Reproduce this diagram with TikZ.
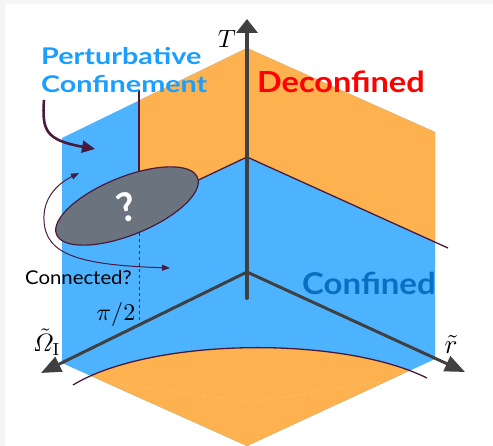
\documentclass[tikz,border=0pt]{standalone}
\usepackage{amsmath}
\usepackage[no-math]{fontspec}
\setmainfont{Lato}
\newfontfamily\pertfont[FakeStretch=1.25]{Lato}
\newfontfamily\deconffont[FakeStretch=1.12]{Lato}
\newfontfamily\conffont[FakeStretch=1.1]{Lato}
\newfontfamily\connfont[FakeStretch=1.07]{Lato}
\usetikzlibrary{arrows.meta,positioning}
\definecolor{wallblue}{HTML}{4DB3FF}
\definecolor{wallorange}{HTML}{FDB24F}
\definecolor{axisgray}{HTML}{404040}
\definecolor{linepurple}{HTML}{4A1A3E}
\definecolor{blobgray}{HTML}{6B747E}
\definecolor{pertblue}{HTML}{1A9EFF}
\definecolor{confblue}{HTML}{0A6FC2}
\definecolor{deconfred}{HTML}{FF0000}
\definecolor{framegray}{HTML}{F5F5F5}
\tikzset{
  axis/.style={draw=axisgray, line width=3pt, -{Triangle[length=20pt,width=16pt]}},
  taxis/.style={draw=axisgray, line width=4pt, line cap=round, -{Triangle[length=14pt,width=21pt]}},
  phaseline/.style={draw=linepurple, line width=1.3pt},
  bigarrow/.style={draw=linepurple, line width=2.6pt, -{Triangle[length=13pt,width=12pt]}},
  thinarrow/.style={draw=linepurple, line width=1pt, {Triangle[length=8pt,width=6pt]}-{Triangle[length=8pt,width=6pt]}},
  region/.style={anchor=base west, inner sep=0pt},
  axlabel/.style={inner sep=0pt}
}

\begin{document}
\begin{tikzpicture}[x=1pt,y=-1pt]
\fill[framegray] (0,0) rectangle (493,446);
\fill[white] (5,4) rectangle (493,446);
\useasboundingbox (0,0) rectangle (493,446);
% ---- walls and floor ----
\fill[wallblue] (247,48) -- (435,132) -- (435,359) -- (247,446) -- (62,363) -- (62,138) -- cycle;
\fill[wallorange] (247,48) -- (435,132) -- (435,242) -- (247,157) -- cycle;
\fill[wallorange] (138,101) -- (247,48) -- (247,157) -- (138,208) -- cycle;
\begin{scope}
\clip (247,48) -- (435,132) -- (435,359) -- (247,446) -- (62,363) -- (62,138) -- cycle;
\fill[wallorange] (73,385) .. controls (150,338) and (340,335) .. (427,378) -- (440,446) -- (60,446) -- cycle;
\draw[wallorange!80!white, line width=0.7pt, dashed] (120,384) -- (250,402) -- (380,382);
\end{scope}
% ---- phase boundaries ----
\draw[phaseline] (247,157) -- (448,248);
\draw[phaseline] (247,157) -- (190,184);
\draw[phaseline] (139,90) -- (139,190);
\draw[phaseline, line width=0.8pt, dashed] (139,215) -- (139,325);
\draw[phaseline] (73,385) .. controls (150,338) and (340,335) .. (427,378);
% ---- the unknown region ----
\draw[linepurple, fill=blobgray, line width=1.2pt, rotate around={22:(127,206)}] (127,206) ellipse [x radius=76, y radius=29];
\node[text=white, font=\bfseries\fontsize{40}{40}\selectfont, rotate=15] (qmark) at (127,207) {?};
% ---- axes ----
\coordinate (O) at (247,272);
\coordinate (Tbot) at (247,298);
\coordinate (Ttip) at (247,19);
\coordinate (rtip) at (465,372);
\coordinate (wtip) at (41,373);
\draw[taxis] (Tbot) -- (Ttip);
\draw[axis] (O) -- (rtip);
\draw[axis] (O) -- (wtip);
\node[axlabel] (Tlab) at (227,39) {\scalebox{2.5}{$T$}};
\node[axlabel] (rlab) at (451,344) {\scalebox{2.7}{$\tilde{r}$}};
\node[axlabel] (wlab) at (47,342) {\scalebox{2.5}{$\tilde{\varOmega}_{\mathrm{I}}$}};
\node[axlabel] (pilab) at (116,315) {\scalebox{2.4}{$\pi/2$}};
% ---- phase names ----
\node[region, text=pertblue, font=\pertfont\bfseries\fontsize{23}{23}\selectfont] (pert) at (41,65) {Perturbative};
\node[region, text=pertblue, font=\pertfont\bfseries\fontsize{23}{23}\selectfont] (pertconf) at (41,93) {Confinement};
\node[region, text=deconfred, font=\deconffont\bfseries\fontsize{29}{29}\selectfont] (deconf) at (257,93) {Deconfined};
\node[region, text=confblue, font=\conffont\bfseries\fontsize{30}{30}\selectfont] (conf) at (302,295) {Confined};
\node[region, font=\connfont\fontsize{19}{19}\selectfont] (connq) at (25,285) {Connected?};
% ---- arrows ----
\coordinate (pertfrom) at (44,100);
\coordinate (pertto) at (95,149);
\draw[bigarrow] (pertfrom) .. controls (42,130) and (45,140) .. (pertto);
\coordinate (connup) at (79,173);
\coordinate (connright) at (170,268);
\draw[thinarrow] (connup) .. controls (55,185) and (43,200) .. (44,220) .. controls (45,255) and (80,265) .. (connright);
\end{tikzpicture}
\end{document}
